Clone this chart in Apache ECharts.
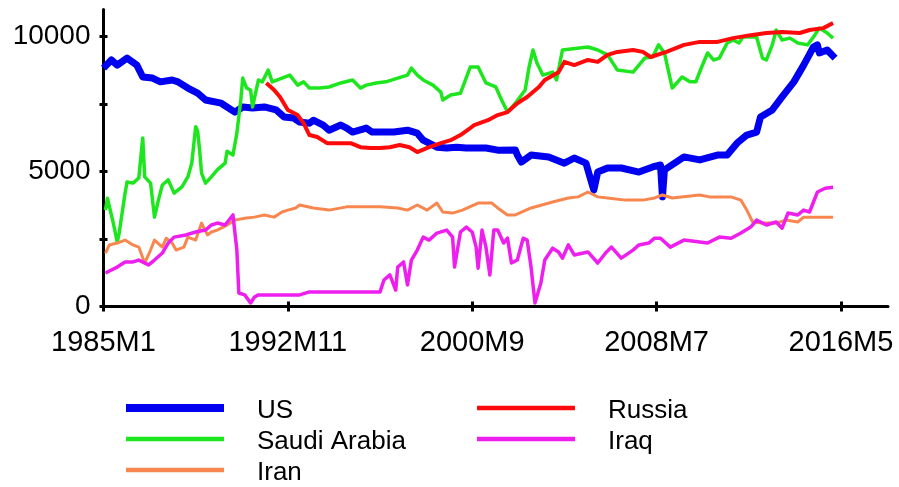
<!DOCTYPE html>
<html>
<head>
<meta charset="utf-8">
<script src="https://cdn.jsdelivr.net/npm/echarts@6/dist/echarts.min.js"></script>
<style>
html,body{margin:0;padding:0;background:#fff;}
#chart{width:899px;height:487px;}
</style>
</head>
<body>
<div id="chart"></div>
<script>
// x values are month indexes counted from 1985M1 (= 0)
const xTickMonths = [0, 94, 188, 282, 376];
const xTickLabels = ['1985M1', '1992M11', '2000M9', '2008M7', '2016M5'];
const yTickValues = [0, 2500, 5000, 7500, 10000];
const yLabelValues = [0, 5000, 10000];

const usData = [[0,8830],[4,9130],[7,8940],[12,9200],[17,8940],[20,8500],[25,8460],[29,8320],[35,8390],[38,8320],[43,8090],[48,7900],[52,7650],[60,7530],[67,7200],[71,7390],[76,7350],[82,7390],[88,7280],[92,7020],[97,6980],[100,6830],[105,6790],[107,6900],[112,6720],[115,6530],[121,6720],[124,6610],[127,6460],[134,6610],[137,6460],[148,6460],[155,6530],[160,6420],[163,6160],[170,5900],[175,5870],[180,5900],[185,5870],[195,5870],[201,5790],[210,5800],[211,5610],[213,5350],[218,5610],[227,5540],[235,5310],[240,5500],[246,5310],[248,4800],[250,4310],[252,4980],[257,5130],[264,5130],[273,4980],[280,5170],[284,5240],[285,4060],[286,5060],[292,5350],[296,5540],[304,5430],[313,5610],[318,5610],[323,6050],[328,6350],[333,6460],[335,7020],[341,7280],[346,7760],[352,8320],[357,8940],[362,9610],[364,9690],[365,9390],[369,9500],[373,9200]];

const saudiData = [[1,3570],[2,4010],[5,3090],[7,2390],[8,2720],[11,4200],[12,4610],[15,4570],[18,4760],[20,6240],[21,4800],[24,4570],[26,3310],[28,3940],[30,4500],[33,4690],[36,4200],[40,4430],[43,4800],[45,5310],[47,6660],[48,6500],[49,5790],[50,4940],[52,4570],[55,4800],[58,5060],[62,5310],[63,5750],[66,5610],[68,6420],[70,7650],[71,8460],[73,8090],[75,8020],[76,7390],[77,7390],[79,8390],[81,8320],[84,8760],[86,8320],[91,8460],[95,8570],[99,8200],[102,8320],[105,8090],[110,8090],[115,8130],[121,8280],[127,8390],[131,8090],[134,8200],[139,8280],[144,8320],[150,8460],[155,8570],[157,8830],[160,8570],[163,8390],[168,8200],[172,7940],[173,7650],[177,7830],[182,7900],[184,8280],[187,8870],[188,8940],[191,8870],[195,8280],[200,8130],[203,7650],[206,7200],[210,7530],[215,8020],[217,8870],[219,9500],[221,9020],[224,8570],[229,8680],[231,8390],[234,9500],[247,9610],[252,9500],[257,9320],[262,8760],[270,8680],[273,8940],[276,9200],[280,9240],[283,9690],[286,9390],[290,8090],[295,8500],[299,8320],[302,8320],[305,8870],[308,9390],[311,9130],[314,9200],[318,9760],[321,9870],[324,9760],[326,9980],[333,9980],[336,9200],[338,9130],[341,9690],[343,10240],[346,9870],[350,9940],[354,9760],[359,9690],[362,9980],[365,10310],[369,10130],[372,9940]];

const iranData = [[1,1980],[3,2280],[7,2350],[11,2460],[15,2280],[18,2200],[21,1610],[24,2090],[26,2460],[30,2200],[32,2530],[35,2350],[37,2090],[41,2200],[43,2570],[47,2460],[50,3090],[53,2650],[55,2760],[58,2830],[61,2940],[63,3020],[67,3200],[72,3270],[77,3310],[82,3390],[87,3310],[91,3500],[94,3570],[98,3650],[100,3760],[107,3650],[115,3570],[124,3690],[141,3690],[150,3650],[155,3570],[160,3760],[165,3570],[170,3830],[173,3500],[178,3460],[183,3570],[191,3830],[198,3830],[201,3650],[206,3390],[210,3390],[218,3650],[229,3870],[237,4020],[242,4060],[247,4240],[252,4060],[257,4020],[266,3940],[275,3940],[281,4020],[285,4130],[290,4020],[304,4130],[309,4060],[320,4060],[325,3940],[328,3570],[331,3130],[336,3090],[343,3090],[348,3200],[354,3130],[357,3310],[372,3310]];

const russiaData = [[83,8280],[87,8020],[90,7760],[94,7280],[99,7090],[102,6790],[105,6350],[109,6280],[114,6050],[126,6050],[131,5900],[136,5870],[141,5870],[146,5900],[151,5980],[156,5900],[160,5720],[166,5900],[172,6050],[177,6160],[182,6350],[187,6610],[189,6720],[196,6900],[201,7090],[206,7200],[211,7530],[216,7760],[222,8130],[225,8390],[232,8680],[235,9060],[240,8940],[247,9130],[252,9060],[257,9320],[262,9430],[270,9500],[275,9430],[279,9240],[287,9430],[296,9690],[304,9800],[313,9800],[321,9940],[330,10050],[338,10130],[346,10170],[355,10130],[360,10240],[367,10310],[372,10500]];

const iraqData = [[1,1240],[4,1350],[7,1460],[11,1650],[15,1650],[18,1720],[23,1540],[26,1720],[30,1980],[33,2350],[36,2570],[42,2650],[47,2760],[52,2830],[55,3020],[58,3090],[62,3020],[66,3390],[67,3460],[68,2090],[69,500],[72,430],[75,130],[77,350],[79,430],[100,430],[105,540],[141,540],[143,980],[146,1170],[149,610],[150,1460],[153,1650],[155,800],[157,1720],[160,2090],[163,2570],[166,2460],[170,2720],[175,2830],[178,2570],[179,1460],[182,2760],[185,2940],[188,2760],[190,2200],[191,1420],[193,2830],[195,2200],[197,1170],[199,2830],[201,2830],[204,2350],[206,2530],[208,1610],[211,1720],[214,2530],[216,2460],[218,1460],[220,130],[223,870],[225,1720],[229,2160],[232,2020],[234,1790],[237,2280],[240,1910],[247,2020],[252,1610],[256,1980],[259,2200],[264,1790],[270,2090],[273,2280],[278,2350],[281,2530],[284,2530],[289,2200],[296,2460],[308,2350],[314,2570],[320,2530],[325,2720],[330,2940],[333,3200],[338,3020],[343,3130],[346,2900],[349,3460],[354,3390],[357,3570],[360,3500],[362,3870],[364,4240],[368,4380],[372,4420]];

const FONT = 'Liberation Sans, Arial, sans-serif';
const chart = echarts.init(document.getElementById('chart'), null, {renderer: 'canvas'});

function lineSeries(name, data, color, width) {
  return {
    name: name, type: 'line', data: data, showSymbol: false, symbol: 'none',
    lineStyle: {color: color, width: width, join: 'round'}, itemStyle: {color: color},
    animation: false, silent: true
  };
}

const xBase = {type: 'value', min: 0, max: 400, position: 'bottom', splitLine: {show: false}};
const yBase = {type: 'value', min: 0, max: 11000, position: 'left', splitLine: {show: false}};

const legendRich = {t: {fontFamily: FONT, fontSize: 26, color: '#000', padding: [6, 0, 0, 28], lineHeight: 26}};
const thick = 'path://M0,0h98v8h-98z';
const thin = 'path://M0,0h98v4.5h-98z';

function legendItem(name, icon, left, centerY) {
  return {
    orient: 'vertical', left: left, top: centerY - 16, padding: 0, itemGap: 0, itemWidth: 98, itemHeight: 8,
    data: [{name: name, icon: icon}],
    formatter: '{t|{name}}', textStyle: {rich: legendRich}, selectedMode: false
  };
}

chart.setOption({
  animation: false,
  backgroundColor: '#fff',
  grid: {left: 103.5, right: 11, top: 9.5, bottom: 180.5, containLabel: false},
  xAxis: [
    Object.assign({}, xBase, {
      axisLine: {show: true, lineStyle: {color: '#000', width: 3}},
      axisTick: {show: true, inside: false, length: 5, customValues: xTickMonths, lineStyle: {color: '#000', width: 3}},
      axisLabel: {show: true, customValues: xTickMonths, margin: 22, fontFamily: FONT, fontSize: 29, color: '#000',
        formatter: function (v) { const i = xTickMonths.indexOf(Math.round(v)); return i >= 0 ? xTickLabels[i] : ''; }}
    }),
    Object.assign({}, xBase, {
      axisLine: {show: false},
      axisTick: {show: true, inside: true, length: 5, customValues: xTickMonths, lineStyle: {color: '#000', width: 3}},
      axisLabel: {show: false}
    })
  ],
  yAxis: [
    Object.assign({}, yBase, {
      axisLine: {show: true, lineStyle: {color: '#000', width: 3}},
      axisTick: {show: true, inside: false, length: 4, customValues: yTickValues, lineStyle: {color: '#000', width: 3}},
      axisLabel: {show: true, customValues: yLabelValues, margin: 13, fontFamily: FONT, fontSize: 28, color: '#000',
        formatter: function (v) { return String(v); }}
    }),
    Object.assign({}, yBase, {
      axisLine: {show: false},
      axisTick: {show: true, inside: true, length: 4, customValues: yTickValues, lineStyle: {color: '#000', width: 3}},
      axisLabel: {show: false}
    })
  ],
  legend: [
    legendItem('US', thick, 126, 408),
    legendItem('Saudi Arabia', thin, 126, 439),
    legendItem('Iran', thin, 126, 470),
    legendItem('Russia', thin, 477, 408),
    legendItem('Iraq', thin, 477, 439)
  ],
  series: [
    lineSeries('US', usData, '#0000f0', 7),
    lineSeries('Saudi Arabia', saudiData, '#1ee61e', 3.5),
    lineSeries('Russia', russiaData, '#ff0a0a', 4),
    lineSeries('Iran', iranData, '#f7874f', 3),
    lineSeries('Iraq', iraqData, '#ee1eee', 3.5)
  ]
});
</script>
</body>
</html>
